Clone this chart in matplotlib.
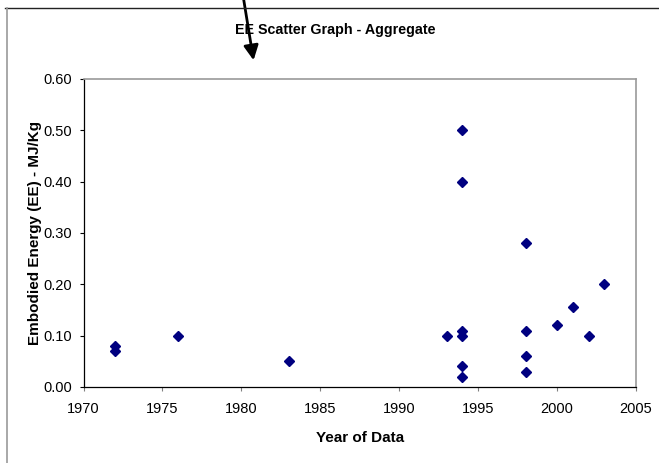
import matplotlib
matplotlib.use("Agg")
import matplotlib.pyplot as plt
from matplotlib.patches import FancyArrowPatch
from matplotlib.lines import Line2D

plt.rcParams['font.family'] = ['Liberation Sans', 'DejaVu Sans']

years = [1972, 1972, 1976, 1983, 1993, 1994, 1994, 1994, 1994, 1994, 1994,
         1998, 1998, 1998, 1998, 2000, 2001, 2002, 2003]
ee = [0.08, 0.07, 0.10, 0.05, 0.10, 0.50, 0.40, 0.11, 0.10, 0.04, 0.02,
      0.28, 0.11, 0.06, 0.03, 0.12, 0.155, 0.10, 0.20]
xticks = [1970, 1975, 1980, 1985, 1990, 1995, 2000, 2005]
yticks = [0.0, 0.1, 0.2, 0.3, 0.4, 0.5, 0.6]

W, H = 659, 463
fig = plt.figure(figsize=(W / 100, H / 100), dpi=100)
ax = fig.add_axes([83.5 / W, 1 - 387 / H, (636 - 83.5) / W, (387 - 79) / H])

ax.plot(years, ee, linestyle='none', marker='D', markersize=5.3,
        color='#000080', markeredgecolor='#000080')

ax.set_xlim(1970, 2005)
ax.set_ylim(0, 0.6)
ax.set_xticks(xticks)
ax.set_yticks(yticks)
ax.set_yticklabels([f"{v:.2f}" for v in yticks])
ax.tick_params(axis='both', direction='out', length=3, width=0.8,
               labelsize=10.5, colors='#000000')
ax.tick_params(axis='x', pad=7.5, color='#808080')
ax.tick_params(axis='y', pad=5, color='#000000')

for s in ['top', 'right']:
    ax.spines[s].set_color('#999999')
    ax.spines[s].set_linewidth(1.2)
for s in ['left', 'bottom']:
    ax.spines[s].set_color('#000000')
    ax.spines[s].set_linewidth(0.9)

ax.set_xlabel('Year of Data', fontsize=11, fontweight='bold', labelpad=11)
ax.set_ylabel('Embodied Energy (EE) - MJ/Kg', fontsize=11, fontweight='bold', labelpad=1)

fig.text(335 / W, 1 - 30 / H, 'EE Scatter Graph - Aggregate', ha='center', va='center',
         fontsize=10.3, fontweight='bold')

# outer frame lines
fig.add_artist(Line2D([5 / W, 1.0], [1 - 8 / H, 1 - 8 / H], color='#222222', linewidth=1.0,
                      transform=fig.transFigure))
fig.add_artist(Line2D([6.5 / W, 6.5 / W], [0, 1 - 8 / H], color='#999999', linewidth=1.2,
                      transform=fig.transFigure))

# arrow
arrow = FancyArrowPatch((243 / W, 1.01), (254 / W, 1 - 63 / H),
                        transform=fig.transFigure, arrowstyle='-|>',
                        mutation_scale=22, linewidth=2.0, color='black')
fig.add_artist(arrow)

fig.savefig('out.png', dpi=100)
